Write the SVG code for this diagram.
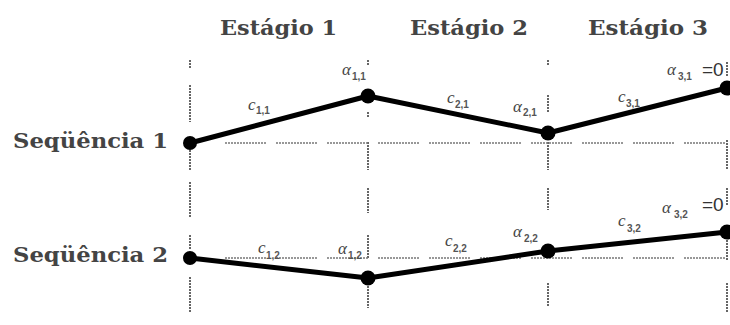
<svg xmlns="http://www.w3.org/2000/svg" width="730" height="325" viewBox="0 0 730 325">
<style>
.head{font-family:"DejaVu Serif","Liberation Serif",serif;font-size:20px;font-weight:bold;fill:#444}
.seq{font-family:"DejaVu Serif","Liberation Serif",serif;font-size:20px;font-weight:bold;fill:#444}
.var{font-family:"Liberation Serif","Times New Roman",serif;font-style:italic;font-size:17px;fill:#444}
.sub{font-family:"Liberation Sans",Arial,sans-serif;font-size:10px;font-weight:bold;fill:#555}
.eq{font-family:"Liberation Sans",Arial,sans-serif;font-size:19px;fill:#333}
.vgrid{stroke:#666;stroke-width:2;stroke-dasharray:2 1;fill:none}
.hgrid{stroke:#777;stroke-width:1.5;stroke-dasharray:2 1 2 1 2 1 2 1 2 1 2 1 2 1 2 1 2 1 2 1 2 1 2 1 2 1 2 10;fill:none}
.path{stroke:#000;stroke-width:5;fill:none;stroke-linejoin:round}
.node{fill:#000}
</style>
<g id="grid">
<path class="vgrid" d="M190,60V68M190,85V122M190,150V170M190,182V217M190,235V250M190,277V312"/>
<path class="vgrid" d="M368,60V66M368,112V118M368,142V170M368,188V213M368,235V258M368,283V308"/>
<path class="vgrid" d="M548,60V66M548,95V112M548,142V170M548,188V210M548,283V307"/>
<path class="vgrid" d="M727,62V76M727,140V170M727,188V205M727,240V260M727,283V312"/>
<path class="hgrid" d="M225,143H727M225,258H727"/>
</g>
<g id="headers">
<text class="head" x="220" y="35" textLength="117" lengthAdjust="spacingAndGlyphs">Estágio 1</text>
<text class="head" x="410" y="35" textLength="118" lengthAdjust="spacingAndGlyphs">Estágio 2</text>
<text class="head" x="588" y="35" textLength="120" lengthAdjust="spacingAndGlyphs">Estágio 3</text>
</g>
<g id="seq1-label"><text class="seq" x="13" y="148" textLength="155" lengthAdjust="spacingAndGlyphs">Seqüência 1</text></g>
<g id="seq2-label"><text class="seq" x="13" y="262" textLength="155" lengthAdjust="spacingAndGlyphs">Seqüência 2</text></g>
<g id="connectors">
<polyline class="path" points="190,143 368,96 548,133 727,88"/>
<polyline class="path" stroke-width="4.5" points="190,258 368,278 548,251 727,232"/>
</g>
<g id="nodes-seq1">
<circle class="node" cx="190" cy="143" r="7"/>
<circle class="node" cx="368" cy="96" r="7.5"/>
<circle class="node" cx="548" cy="133" r="7.5"/>
<circle class="node" cx="727" cy="88" r="7.5"/>
</g>
<g id="nodes-seq2">
<circle class="node" cx="190" cy="258" r="7"/>
<circle class="node" cx="368" cy="278" r="7.5"/>
<circle class="node" cx="548" cy="251" r="7.5"/>
<circle class="node" cx="727" cy="232" r="7.5"/>
</g>
<g id="labels-seq1">
<text class="var" x="248" y="110">c</text><text class="sub" x="256" y="114">1,1</text>
<text class="var" x="342" y="75">α</text><text class="sub" x="352" y="80">1,1</text>
<text class="var" x="447" y="103">c</text><text class="sub" x="455" y="108">2,1</text>
<text class="var" x="513" y="112">α</text><text class="sub" x="523" y="116">2,1</text>
<text class="var" x="618" y="102">c</text><text class="sub" x="626" y="107">3,1</text>
<text class="var" x="667" y="75">α</text><text class="sub" x="678" y="80">3,1</text>
<text class="eq" x="702" y="76">=0</text>
</g>
<g id="labels-seq2">
<text class="var" x="258" y="253">c</text><text class="sub" x="266" y="259">1,2</text>
<text class="var" x="338" y="254">α</text><text class="sub" x="348" y="259">1,2</text>
<text class="var" x="445" y="246">c</text><text class="sub" x="453" y="252">2,2</text>
<text class="var" x="513" y="237">α</text><text class="sub" x="524" y="242">2,2</text>
<text class="var" x="618" y="226">c</text><text class="sub" x="627" y="232">3,2</text>
<text class="var" x="662" y="213">α</text><text class="sub" x="674" y="218">3,2</text>
<text class="eq" x="702" y="211">=0</text>
</g>
</svg>
